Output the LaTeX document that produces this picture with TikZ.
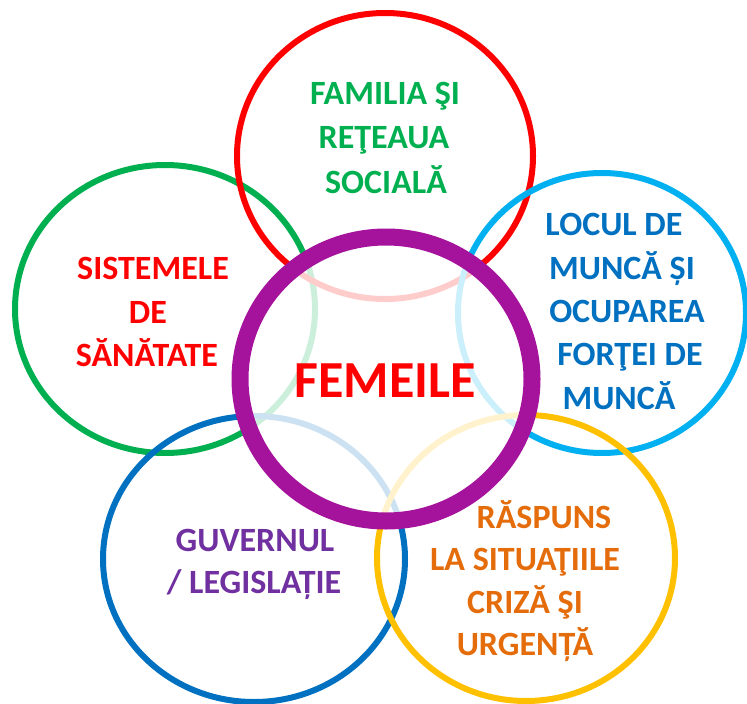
\documentclass[tikz,border=0pt]{standalone}
\usepackage{fontspec}
\setmainfont{Carlito}
\definecolor{cgreen}{HTML}{00B050}
\definecolor{cred}{HTML}{FF0000}
\definecolor{clblue}{HTML}{00B0F0}
\definecolor{cblue}{HTML}{0070C0}
\definecolor{cyellow}{HTML}{FFC000}
\definecolor{cpurple}{HTML}{A5129C}
\definecolor{tpurple}{HTML}{7030A0}
\definecolor{torange}{HTML}{E46C0A}
\begin{document}
\begin{tikzpicture}[x=1pt,y=-1pt,
  ring/.style={line width=6pt},
  lbl/.style={anchor=base, inner sep=0pt, font=\bfseries\fontsize{34}{40}\selectfont},
  big/.style={anchor=base, inner sep=0pt, font=\bfseries\fontsize{52}{60}\selectfont}]
\useasboundingbox (0,0) rectangle (747,704);
% outer rings
\draw[ring, cgreen] (165,309) ellipse [x radius=150pt, y radius=144pt];
\draw[ring, cred] (385,156) ellipse [x radius=148pt, y radius=143pt];
\draw[ring, clblue] (602,313) ellipse [x radius=144pt, y radius=140pt];
\draw[ring, cblue] (254,559) ellipse [x radius=151pt, y radius=143pt];
\draw[ring, cyellow] (526,558) ellipse [x radius=149pt, y radius=143pt];
% centre ring
\draw[line width=17pt, cpurple, fill=white, fill opacity=0.8] (386,379) ellipse [x radius=146pt, y radius=142pt];
% labels
\node[lbl, cgreen] (fam1) at (385,104) {FAMILIA ŞI};
\node[lbl, cgreen] (fam2) at (384,148) {REŢEAUA};
\node[lbl, cgreen] (fam3) at (386,193) {SOCIALĂ};
\node[lbl, cred] (sis1) at (153,279) {SISTEMELE};
\node[lbl, cred] (sis2) at (148,323) {DE};
\node[lbl, cred] (sis3) at (147,366) {SĂNĂTATE};
\node[lbl, cblue] (loc1) at (614,235) {LOCUL DE};
\node[lbl, cblue] (loc2) at (622,279) {MUNCĂ ȘI};
\node[lbl, cblue] (loc3) at (627,322) {OCUPAREA};
\node[lbl, cblue] (loc4) at (630,365) {FORŢEI DE};
\node[lbl, cblue] (loc5) at (619,409) {MUNCĂ};
\node[lbl, tpurple] (guv1) at (255,551) {GUVERNUL};
\node[lbl, tpurple] (guv2) at (254,593) {/ LEGISLAȚIE};
\node[lbl, torange] (ras1) at (544,528) {RĂSPUNS};
\node[lbl, torange] (ras2) at (525,570) {LA SITUAŢIILE};
\node[lbl, torange] (ras3) at (525,613) {CRIZĂ ŞI};
\node[lbl, torange] (ras4) at (525,655) {URGENȚĂ};
\node[big, cred] (fem) at (385,397) {FEMEILE};
\end{tikzpicture}
\end{document}
